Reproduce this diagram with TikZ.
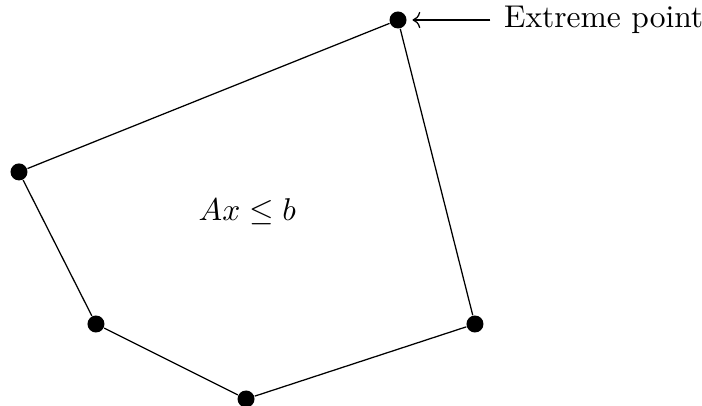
\documentclass[tikz,border=0pt]{standalone}
\usepackage{amsmath}
\usepackage{amssymb}
\usetikzlibrary{arrows.meta,calc,positioning}

\begin{document}
\begin{tikzpicture}[
      vertex/.style={circle, fill=black, inner sep=0pt, minimum size=5.4pt},
      edge/.style={draw=black, line width=0.4pt}
    ]
      \useasboundingbox (0,0) rectangle (7.835,4.531);

      % polytope vertices
      \node[vertex] (top) at (4.442, 4.308) {};
      \node[vertex] (left) at (0.212, 2.612) {};
      \node[vertex] (lowleft) at (1.071, 0.915) {};
      \node[vertex] (bottom) at (2.746, 0.078) {};
      \node[vertex] (right) at (5.301, 0.915) {};

      % polytope edges
      \draw[edge] (top) -- (left) -- (lowleft) -- (bottom) -- (right) -- (top);

      % label
      \node (ineq) at (2.760, 2.165) {$Ax \leq b$};
      \node[anchor=east, inner sep=0pt] (extreme) at (7.855, 4.308) {Extreme point};
      \draw[->] ($(extreme.west)+(-0.145,0)$) -- (top.east) [shorten >=1.7pt];
    \end{tikzpicture}
\end{document}
